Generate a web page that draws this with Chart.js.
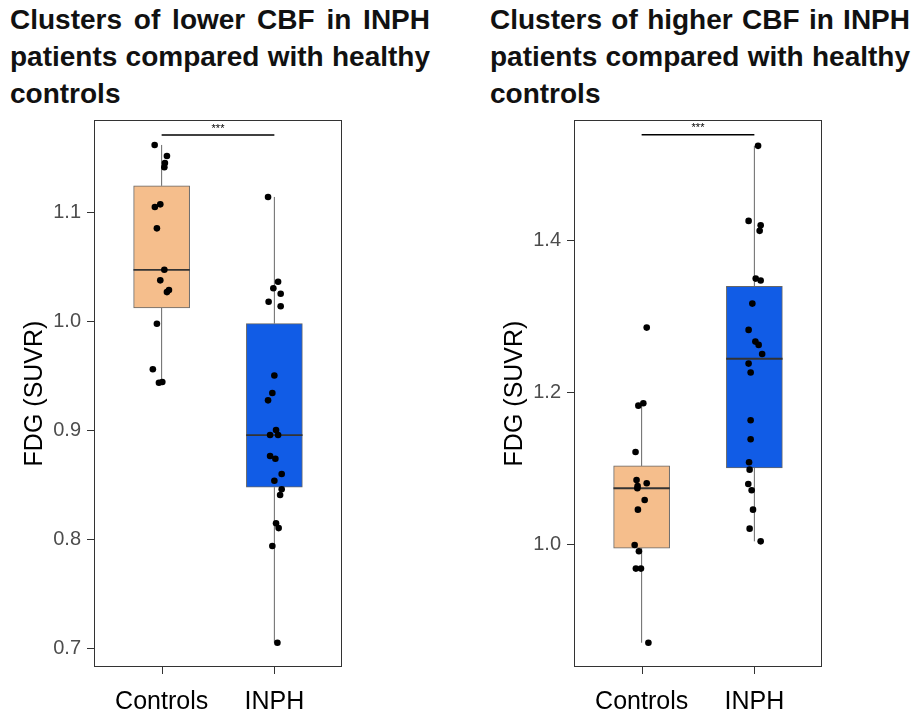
<!DOCTYPE html>
<html>
<head>
<meta charset="utf-8">
<script src="https://cdn.jsdelivr.net/npm/chart.js@4.4.0/dist/chart.umd.min.js"></script>
<style>
body{margin:0;background:#fff;width:912px;height:714px;position:relative;overflow:hidden;font-family:"Liberation Sans",Arial,sans-serif;}
.titulo{position:absolute;top:1px;width:420px;font-size:28px;font-weight:bold;line-height:37px;color:#111;}
.titulo div{text-align:justify;text-align-last:justify;white-space:nowrap;}
.titulo div:last-child{text-align-last:left;}
.painel{position:absolute;top:110px;width:350px;height:604px;}
</style>
</head>
<body>
<div class="titulo" style="left:10px">
  <div>Clusters of lower CBF in INPH</div>
  <div>patients compared with healthy</div>
  <div>controls</div>
</div>
<div class="titulo" style="left:490px">
  <div>Clusters of higher CBF in INPH</div>
  <div>patients compared with healthy</div>
  <div>controls</div>
</div>
<div class="painel" style="left:0px"><canvas id="chartMenor" width="350" height="604"></canvas></div>
<div class="painel" style="left:480px"><canvas id="chartMaior" width="350" height="604"></canvas></div>

<script>
const grupos = ['Controls', 'INPH'];
const coresGrupos = ['#F5BE8C', '#115CE6'];

// painel esquerdo - clusters de CBF menor
const menorControls = [1.1615, 1.1514, 1.145, 1.141, 1.107, 1.1046, 1.085, 1.047, 1.0373, 1.0265, 1.0285, 0.9975, 0.9557, 0.9434, 0.944];
const menorControlsJitter = [-0.062, 0.047, 0.029, 0.024, -0.012, -0.06, -0.042, 0.024, -0.012, 0.047, 0.065, -0.042, -0.078, -0.024, 0.006];
const menorInph = [1.1138, 1.036, 1.03, 1.025, 1.0177, 1.0135, 0.95, 0.934, 0.9272, 0.9, 0.8954, 0.8954, 0.8761, 0.8737, 0.8596, 0.8535, 0.8456, 0.8404, 0.8144, 0.81, 0.7936, 0.7049];
const menorInphJitter = [-0.056, 0.033, -0.009, 0.056, -0.051, 0.056, 0, -0.018, -0.056, 0.015, -0.038, 0.033, -0.038, 0.009, 0.065, 0, 0.065, 0.051, 0.015, 0.038, -0.018, 0.027];
const menorTicks = [0.7, 0.8, 0.9, 1.0, 1.1];

// painel direito - clusters de CBF maior
const maiorControls = [1.2859, 1.1864, 1.1833, 1.1224, 1.0855, 1.0775, 1.0811, 1.0746, 1.0592, 1.0465, 1.0, 0.9917, 0.9689, 0.9689, 0.8714];
const maiorControlsJitter = [0.045, 0.015, -0.029, -0.054, -0.045, -0.036, 0.045, -0.038, 0.027, -0.033, -0.062, -0.024, -0.051, -0.006, 0.06];
const maiorInph = [1.525, 1.4263, 1.4206, 1.4132, 1.3504, 1.3478, 1.3175, 1.2829, 1.2675, 1.2632, 1.2513, 1.2386, 1.2268, 1.164, 1.139, 1.1088, 1.0991, 1.0803, 1.072, 1.0465, 1.0215, 1.0048];
const maiorInphJitter = [0.033, -0.051, 0.056, 0.047, 0.012, 0.056, -0.018, -0.051, 0.009, 0.038, 0.069, -0.051, -0.033, -0.033, -0.033, -0.047, -0.042, -0.054, -0.024, -0.012, -0.042, 0.056];
const maiorTicks = [1.0, 1.2, 1.4];

function quantil(valores, p){
    const s = [...valores].sort((a, b) => a - b);
    const h = (s.length - 1) * p;
    const i = Math.floor(h);
    const prox = i + 1 < s.length ? s[i + 1] : s[i];
    return s[i] + (h - i) * (prox - s[i]);
}

function estatisticas(valores){
    const q1 = quantil(valores, 0.25);
    const med = quantil(valores, 0.5);
    const q3 = quantil(valores, 0.75);
    const iqr = q3 - q1;
    const lo = Math.min(...valores.filter(v => v >= q1 - 1.5 * iqr));
    const hi = Math.max(...valores.filter(v => v <= q3 + 1.5 * iqr));
    return {q1, med, q3, lo, hi};
}

const pluginMoldura = {
    id: 'moldura',
    afterDraw(chart){
        const {ctx, chartArea, scales} = chart;
        const sig = chart.options.plugins.moldura;
        ctx.save();
        ctx.strokeStyle = '#333';
        ctx.lineWidth = 1;
        ctx.strokeRect(chartArea.left + 0.5, chartArea.top + 0.5, chartArea.right - chartArea.left - 1, chartArea.bottom - chartArea.top - 1);

        // marcas do eixo x
        ctx.beginPath();
        scales.x.ticks.forEach((t) => {
            const px = Math.round(scales.x.getPixelForValue(t.value)) + 0.5;
            ctx.moveTo(px, chartArea.bottom);
            ctx.lineTo(px, chartArea.bottom + 7);
        });
        ctx.stroke();

        // barra de significancia
        const x1 = scales.x.getPixelForValue(1);
        const x2 = scales.x.getPixelForValue(2);
        const y = scales.y.getPixelForValue(sig.y);
        ctx.strokeStyle = '#000';
        ctx.lineWidth = 1.5;
        ctx.beginPath();
        ctx.moveTo(x1, y);
        ctx.lineTo(x2, y);
        ctx.stroke();
        ctx.fillStyle = '#000';
        ctx.font = '11px "Liberation Sans", Arial';
        ctx.textAlign = 'center';
        ctx.textBaseline = 'bottom';
        ctx.fillText(sig.texto, (x1 + x2) / 2, y - 1);
        ctx.restore();
    }
};

function criarGrafico(id, ctrl, ctrlJit, inph, inphJit, yMin, yMax, yTicks, sigY){
    const series = [ctrl, inph];
    const jitters = [ctrlJit, inphJit];
    const stats = series.map(estatisticas);

    const datasets = [];

    datasets.push({
        type: 'scatter',
        label: 'pontos',
        data: series.flatMap((vals, g) => vals.map((v, i) => ({x: g + 1 + jitters[g][i], y: v}))),
        backgroundColor: '#000',
        borderWidth: 0,
        pointRadius: 3.3,
        order: 0
    });

    stats.forEach((s, g) => {
        datasets.push({
            type: 'line',
            label: 'mediana',
            data: [{x: g + 1 - 0.25, y: s.med}, {x: g + 1 + 0.25, y: s.med}],
            borderColor: '#333',
            borderWidth: 1.8,
            pointRadius: 0,
            order: 1
        });
        datasets.push({
            type: 'line',
            label: 'bigode',
            data: [{x: g + 1, y: s.lo}, {x: g + 1, y: s.q1}],
            borderColor: '#666',
            borderWidth: 1,
            pointRadius: 0,
            order: 3
        });
        datasets.push({
            type: 'line',
            label: 'bigode',
            data: [{x: g + 1, y: s.q3}, {x: g + 1, y: s.hi}],
            borderColor: '#666',
            borderWidth: 1,
            pointRadius: 0,
            order: 3
        });
    });

    datasets.push({
        type: 'bar',
        label: 'caixa',
        data: stats.map((s, g) => ({x: g + 1, y: [s.q1, s.q3]})),
        backgroundColor: coresGrupos,
        borderColor: '#666',
        borderWidth: 1,
        borderSkipped: false,
        barThickness: 56,
        order: 2
    });

    new Chart(document.getElementById(id), {
        type: 'scatter',
        data: {datasets: datasets},
        plugins: [pluginMoldura],
        options: {
            responsive: false,
            animation: false,
            events: [],
            layout: {padding: {top: 10, right: 8, left: 0, bottom: 0}},
            plugins: {
                legend: {display: false},
                tooltip: {enabled: false},
                moldura: {y: sigY, texto: '***'}
            },
            scales: {
                x: {
                    type: 'linear',
                    min: 0.4,
                    max: 2.6,
                    offset: false,
                    afterBuildTicks: (axis) => { axis.ticks = grupos.map((g, i) => ({value: i + 1})); },
                    afterFit: (axis) => { axis.height = 47; axis.paddingLeft = 0; axis.paddingRight = 0; },
                    ticks: {
                        callback: (v) => grupos[Math.round(v) - 1],
                        color: '#000',
                        font: {size: 25, family: '"Liberation Sans", Arial'},
                        padding: 13,
                        maxRotation: 0,
                        autoSkip: false
                    },
                    grid: {display: false, offset: false, tickLength: 7},
                    border: {display: false}
                },
                y: {
                    min: yMin,
                    max: yMax,
                    afterBuildTicks: (axis) => { axis.ticks = yTicks.map(v => ({value: v})); },
                    afterFit: (axis) => { axis.width = 94; axis.paddingTop = 0; axis.paddingBottom = 0; },
                    ticks: {
                        callback: (v) => Number(v).toFixed(1),
                        color: '#4D4D4D',
                        font: {size: 20, family: '"Liberation Sans", Arial'},
                        padding: 6
                    },
                    grid: {offset: false, drawOnChartArea: false, drawTicks: true, tickLength: 7, color: '#333'},
                    border: {display: false},
                    title: {
                        display: true,
                        text: 'FDG (SUVR)',
                        color: '#000',
                        font: {size: 25, family: '"Liberation Sans", Arial'},
                        padding: {top: 20, bottom: 0}
                    }
                }
            }
        }
    });
}

criarGrafico('chartMenor', menorControls, menorControlsJitter, menorInph, menorInphJitter, 0.6826, 1.1844, menorTicks, 1.1706);
criarGrafico('chartMaior', maiorControls, maiorControlsJitter, maiorInph, maiorInphJitter, 0.8395, 1.559, maiorTicks, 1.5395);
</script>
</body>
</html>
